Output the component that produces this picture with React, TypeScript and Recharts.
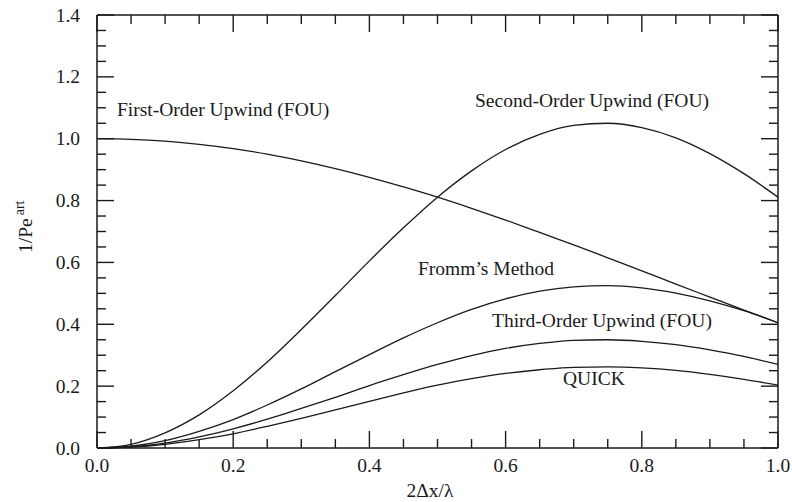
import { LineChart, Line, XAxis, YAxis } from "recharts"

const xs = [0, 0.05, 0.1, 0.15, 0.2, 0.25, 0.3, 0.35, 0.4, 0.45, 0.5, 0.55, 0.6, 0.65, 0.7, 0.75, 0.8, 0.85, 0.9, 0.95, 1.0]
const firstOrder = [1.0, 0.998, 0.992, 0.982, 0.968, 0.95, 0.928, 0.903, 0.875, 0.844, 0.811, 0.775, 0.737, 0.697, 0.657, 0.615, 0.573, 0.53, 0.488, 0.446, 0.405]
const secondOrder = [0, 0.012, 0.049, 0.107, 0.185, 0.278, 0.383, 0.493, 0.605, 0.712, 0.811, 0.896, 0.965, 1.014, 1.043, 1.05, 1.036, 1.003, 0.952, 0.887, 0.811]
const fromm = [0, 0.006, 0.024, 0.054, 0.092, 0.139, 0.191, 0.247, 0.302, 0.356, 0.405, 0.448, 0.482, 0.507, 0.521, 0.525, 0.518, 0.501, 0.476, 0.444, 0.405]
const thirdOrder = [0, 0.004, 0.016, 0.036, 0.062, 0.093, 0.128, 0.164, 0.202, 0.237, 0.27, 0.299, 0.322, 0.338, 0.348, 0.35, 0.345, 0.334, 0.317, 0.296, 0.27]
const quick = [0, 0.003, 0.012, 0.027, 0.046, 0.07, 0.096, 0.123, 0.151, 0.178, 0.203, 0.224, 0.241, 0.253, 0.261, 0.262, 0.259, 0.251, 0.238, 0.222, 0.203]

const xTicks = [0, 0.05, 0.1, 0.15, 0.2, 0.25, 0.3, 0.35, 0.4, 0.45, 0.5, 0.55, 0.6, 0.65, 0.7, 0.75, 0.8, 0.85, 0.9, 0.95, 1.0]
const yTicks = [0, 0.05, 0.1, 0.15, 0.2, 0.25, 0.3, 0.35, 0.4, 0.45, 0.5, 0.55, 0.6, 0.65, 0.7, 0.75, 0.8, 0.85, 0.9, 0.95, 1.0, 1.05, 1.1, 1.15, 1.2, 1.25, 1.3, 1.35, 1.4]

const data = xs.map((x, i) => ({
    x,
    fou: firstOrder[i],
    sou: secondOrder[i],
    fromm: fromm[i],
    tou: thirdOrder[i],
    quick: quick[i],
}))

const FONT = '"Liberation Serif", "Times New Roman", Times, serif'
const INK = "#1a1a1a"
const MAJOR = 17
const MINOR = 9

const isMajor = (v: number) => Math.abs(v * 5 - Math.round(v * 5)) < 1e-6

function BottomTick(props: any) {
    const { x, y, payload } = props
    const v = payload.value
    const major = isMajor(v)
    return (
        <g>
            <line x1={x} y1={y} x2={x} y2={y - (major ? MAJOR : MINOR)} stroke={INK} strokeWidth={1.4} />
            {major && (
                <text x={x} y={y + 24} textAnchor="middle" fontFamily={FONT} fontSize={19.5} fill={INK}>
                    {v.toFixed(1)}
                </text>
            )}
        </g>
    )
}

function TopTick(props: any) {
    const { x, y, payload } = props
    const len = isMajor(payload.value) ? MAJOR : MINOR
    return <line x1={x} y1={y} x2={x} y2={y + len} stroke={INK} strokeWidth={1.4} />
}

function LeftTick(props: any) {
    const { x, y, payload } = props
    const v = payload.value
    const major = isMajor(v)
    return (
        <g>
            <line x1={x} y1={y} x2={x + (major ? MAJOR : MINOR)} y2={y} stroke={INK} strokeWidth={1.4} />
            {major && (
                <text x={x - 17} y={y + 6.5} textAnchor="end" fontFamily={FONT} fontSize={19.5} fill={INK}>
                    {v.toFixed(1)}
                </text>
            )}
        </g>
    )
}

function RightTick(props: any) {
    const { x, y, payload } = props
    const len = isMajor(payload.value) ? MAJOR : MINOR
    return <line x1={x} y1={y} x2={x - len} y2={y} stroke={INK} strokeWidth={1.4} />
}

const axisLine = { stroke: INK, strokeWidth: 1.5 }

export default function App() {
    const series = ["fou", "sou", "fromm", "tou", "quick"]
    return (
        <div style={{ position: "absolute", left: 0, top: 0, width: 792, height: 502, background: "#fff" }}>
            <LineChart width={792} height={502} data={data} margin={{ top: 14, right: 13, bottom: 0, left: 0 }}>
                <XAxis
                    dataKey="x"
                    type="number"
                    domain={[0, 1]}
                    ticks={xTicks}
                    interval={0}
                    height={54}
                    tickSize={0}
                    tickMargin={0}
                    tickLine={false}
                    axisLine={axisLine}
                    tick={<BottomTick />}
                />
                <XAxis
                    xAxisId="top"
                    orientation="top"
                    dataKey="x"
                    type="number"
                    domain={[0, 1]}
                    ticks={xTicks}
                    interval={0}
                    height={1}
                    tickSize={0}
                    tickMargin={0}
                    tickLine={false}
                    axisLine={axisLine}
                    tick={<TopTick />}
                />
                <YAxis
                    type="number"
                    domain={[0, 1.4]}
                    ticks={yTicks}
                    interval={0}
                    width={97}
                    tickSize={0}
                    tickMargin={0}
                    tickLine={false}
                    axisLine={axisLine}
                    tick={<LeftTick />}
                />
                <YAxis
                    yAxisId="right"
                    orientation="right"
                    type="number"
                    domain={[0, 1.4]}
                    ticks={yTicks}
                    interval={0}
                    width={1}
                    tickSize={0}
                    tickMargin={0}
                    tickLine={false}
                    axisLine={axisLine}
                    tick={<RightTick />}
                />
                {series.map((k) => (
                    <Line
                        key={k}
                        dataKey={k}
                        type="monotone"
                        stroke={INK}
                        strokeWidth={1.3}
                        dot={false}
                        activeDot={false}
                        isAnimationActive={false}
                    />
                ))}
                {/* invisible copy bound to the mirror axes so their ticks get drawn */}
                <Line
                    xAxisId="top"
                    yAxisId="right"
                    dataKey="fou"
                    type="monotone"
                    stroke="none"
                    dot={false}
                    activeDot={false}
                    isAnimationActive={false}
                />
            </LineChart>
            <svg
                width={792}
                height={502}
                style={{ position: "absolute", left: 0, top: 0, pointerEvents: "none" }}
                fontFamily={FONT}
                fontSize={19.5}
                fill={INK}
            >
                <text x={117} y={116}>First-Order Upwind (FOU)</text>
                <text x={475} y={107}>Second-Order Upwind (FOU)</text>
                <text x={418} y={275}>Fromm’s Method</text>
                <text x={492} y={327}>Third-Order Upwind (FOU)</text>
                <text x={563} y={385}>QUICK</text>
                <text x={430} y={497} textAnchor="middle">2Δx/λ</text>
                <text transform="translate(32,253) rotate(-90)">
                    1/Pe
                    <tspan dx={3} dy={-8} fontSize={14}>art</tspan>
                </text>
            </svg>
        </div>
    )
}
